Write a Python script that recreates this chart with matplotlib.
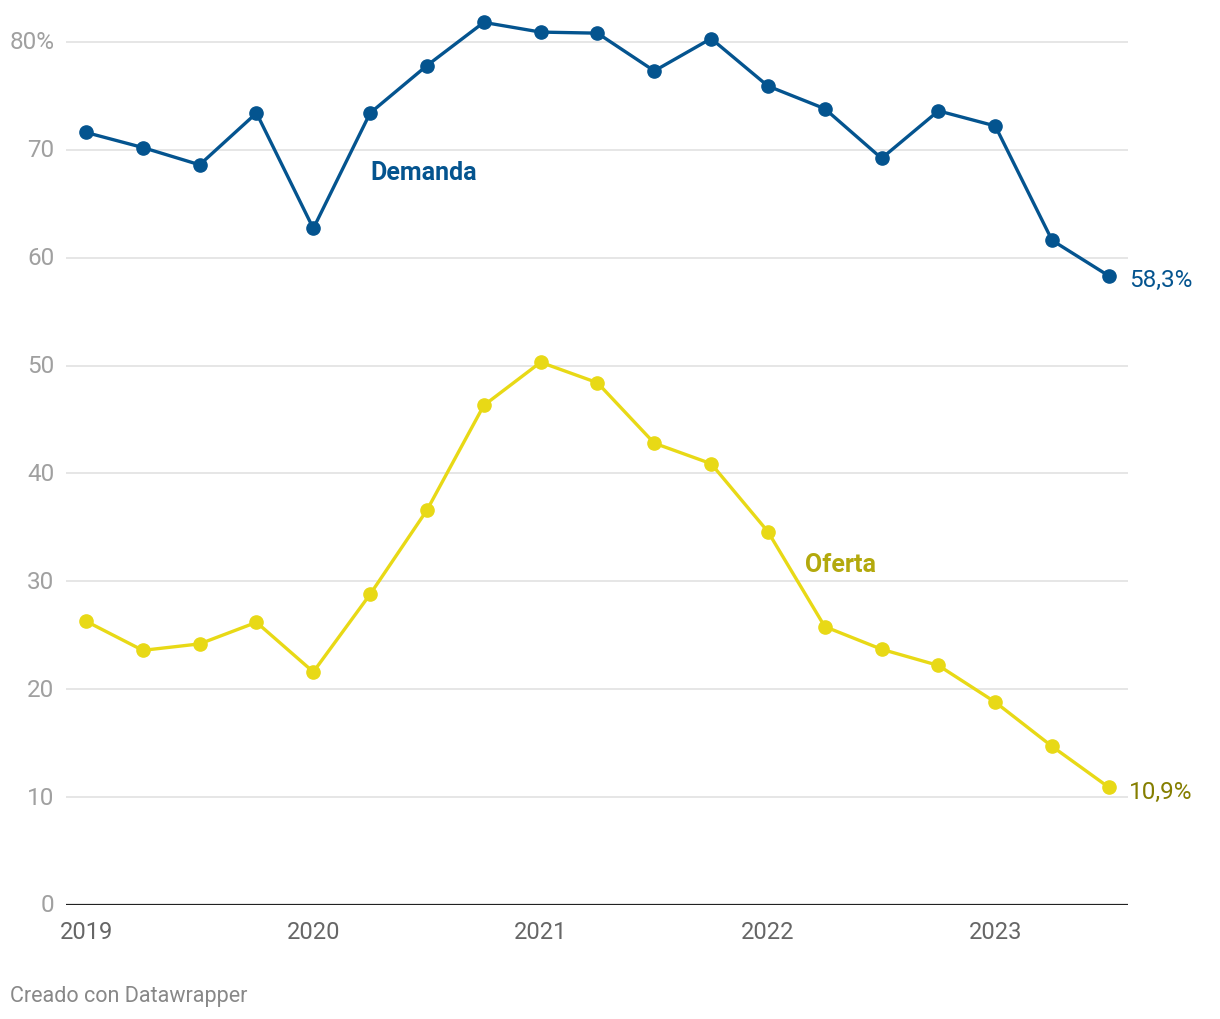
import matplotlib
matplotlib.use("Agg")
import matplotlib.pyplot as plt
from matplotlib.ticker import FixedLocator

# Data (quarterly, 2019 Q1 .. 2023 Q3)
quarters = [2019.0, 2019.25, 2019.5, 2019.75, 2020.0, 2020.25, 2020.5, 2020.75,
            2021.0, 2021.25, 2021.5, 2021.75, 2022.0, 2022.25, 2022.5, 2022.75,
            2023.0, 2023.25, 2023.5]
demanda = [71.6, 70.2, 68.6, 73.4, 62.7, 73.4, 77.8, 81.8, 80.9, 80.8, 77.3, 80.3,
           75.9, 73.8, 69.2, 73.6, 72.2, 61.6, 58.3]
oferta = [26.3, 23.6, 24.2, 26.2, 21.6, 28.8, 36.6, 46.3, 50.3, 48.4, 42.8, 40.9,
          34.6, 25.8, 23.7, 22.2, 18.8, 14.7, 10.9]
x_ticks = [2019, 2020, 2021, 2022, 2023]
x_labels = ["2019", "2020", "2021", "2022", "2023"]
y_ticks = [0, 10, 20, 30, 40, 50, 60, 70, 80]
y_labels = ["0", "10", "20", "30", "40", "50", "60", "70", "80%"]

BLUE = "#04548f"
YELLOW = "#e8d916"
YEL_LABEL = "#b3a90d"
YEL_VALUE = "#857e00"

plt.rcParams["font.family"] = ["Roboto", "DejaVu Sans"]

W, H = 1220, 1020
fig = plt.figure(figsize=(W / 100, H / 100), dpi=100)
left, right = 66, 1128
top, bottom = 17, 906
ax = fig.add_axes([left / W, 1 - bottom / H, (right - left) / W, (bottom - top) / H])

ax.set_xlim(2018.912, 2023.584)
ax.set_ylim(0, (bottom - top) / 10.79)

for yt in y_ticks[1:]:
    ax.axhline(yt, color="#e2e2e2", lw=1.2, zorder=1)
ax.axhline(0, color="#222222", lw=1.6, zorder=2)

ax.plot(quarters, oferta, color=YELLOW, lw=2.4, marker="o", ms=9.5, zorder=3, clip_on=False)
ax.plot(quarters, demanda, color=BLUE, lw=2.4, marker="o", ms=9.5, zorder=4, clip_on=False)

for s in ax.spines.values():
    s.set_visible(False)

ax.yaxis.set_major_locator(FixedLocator(y_ticks))
ax.set_yticklabels(y_labels)
ax.xaxis.set_major_locator(FixedLocator(x_ticks))
ax.set_xticklabels(x_labels)
ax.tick_params(axis="y", length=0, pad=8.5, labelsize=17.5, labelcolor="#a0a0a0")
ax.tick_params(axis="x", length=0, pad=11, labelsize=17, labelcolor="#666666")
for lbl in ax.get_yticklabels():
    lbl.set_verticalalignment("center")

ax.text(2020.25, 67.9, "Demanda", color=BLUE, fontsize=18, fontweight="bold",
        ha="left", va="center")
ax.text(2022.165, 31.6, "Oferta", color=YEL_LABEL, fontsize=18, fontweight="bold",
        ha="left", va="center")

ax.annotate("58,3%", (quarters[-1], demanda[-1]), xytext=(20, -4), textcoords="offset pixels",
            color=BLUE, fontsize=17.5, ha="left", va="center")
ax.annotate("10,9%", (quarters[-1], oferta[-1]), xytext=(20, -4), textcoords="offset pixels",
            color=YEL_VALUE, fontsize=17.5, ha="left", va="center")

fig.text(10 / W, 1 - 997 / H, "Creado con Datawrapper", color="#888888", fontsize=15.5,
         ha="left", va="center")

fig.savefig("out.png", dpi=100, facecolor="white")
